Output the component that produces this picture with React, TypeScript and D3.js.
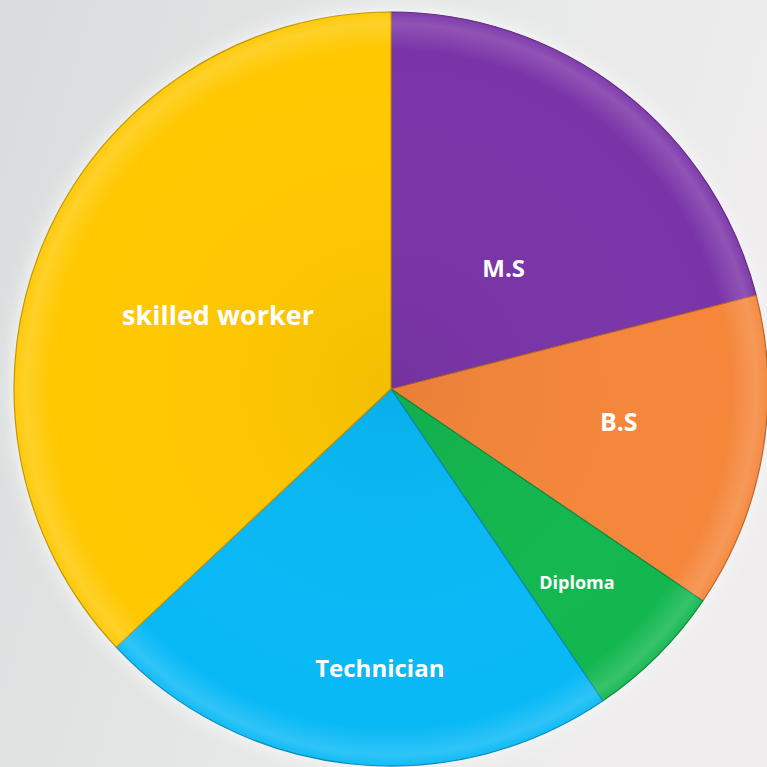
import React, { useEffect, useRef } from 'react';
import * as d3 from 'd3';

// slice data, clockwise from 12 o'clock
const categories = ['M.S', 'B.S', 'Diploma', 'Technician', 'skilled worker'];
const shares = [21, 13.5, 6, 22.5, 37];
const colors = ['#7A34A8', '#F5863A', '#12B74F', '#08B9F6', '#FFC800'];

// label placement: fraction of radius, angle nudge (deg), font size
const labelRadius = [0.44, 0.61, 0.71, 0.74, 0.5];
const labelNudge = [5, -2, 1, -4, 0];
const labelSize = [24, 25, 18, 24, 27];

const App = () => {
    const ref = useRef<SVGSVGElement>(null);

    useEffect(() => {
        document.body.style.margin = '0';
        const svg = d3.select(ref.current);
        svg.selectAll('*').remove();

        const W = 767, H = 767;
        const cx = 391, cy = 389, R = 377;

        const defs = svg.append('defs');

        // background, light grey photo-ish gradient
        const bg = defs.append('linearGradient').attr('id', 'bg')
            .attr('x1', 0).attr('y1', 0).attr('x2', 1).attr('y2', 0.3);
        bg.append('stop').attr('offset', '0%').attr('stop-color', '#D9DCDC');
        bg.append('stop').attr('offset', '55%').attr('stop-color', '#E6E8E8');
        bg.append('stop').attr('offset', '100%').attr('stop-color', '#EFEDED');
        svg.append('rect').attr('width', W).attr('height', H).attr('fill', 'url(#bg)');

        // soft glow behind the pie
        const glow = defs.append('filter').attr('id', 'glow')
            .attr('x', '-10%').attr('y', '-10%').attr('width', '120%').attr('height', '120%');
        glow.append('feGaussianBlur').attr('stdDeviation', 8);
        svg.append('circle').attr('cx', cx).attr('cy', cy).attr('r', R + 4)
            .attr('fill', '#F6F6F6').attr('opacity', 0.9).attr('filter', 'url(#glow)');

        // rim highlight to fake the bevel (group coords, so centred on 0,0)
        const rim = defs.append('radialGradient').attr('id', 'rim')
            .attr('cx', 0).attr('cy', 0).attr('r', R).attr('gradientUnits', 'userSpaceOnUse');
        rim.append('stop').attr('offset', '0%').attr('stop-color', '#000').attr('stop-opacity', 0.05);
        rim.append('stop').attr('offset', '90%').attr('stop-color', '#fff').attr('stop-opacity', 0);
        rim.append('stop').attr('offset', '97%').attr('stop-color', '#fff').attr('stop-opacity', 0.16);
        rim.append('stop').attr('offset', '100%').attr('stop-color', '#fff').attr('stop-opacity', 0.04);

        const pie = d3.pie<number>().sort(null).value(d => d);
        const arcs = pie(shares);
        const arc = d3.arc<d3.PieArcDatum<number>>().innerRadius(0).outerRadius(R);

        const g = svg.append('g').attr('transform', `translate(${cx},${cy})`);

        g.selectAll('path.slice')
            .data(arcs)
            .join('path')
            .attr('class', 'slice')
            .attr('d', arc)
            .attr('fill', (d, i) => colors[i])
            .attr('stroke', (d, i) => d3.color(colors[i])!.darker(0.8).formatHex())
            .attr('stroke-width', 1.2)
            .attr('stroke-linejoin', 'round');

        g.selectAll('path.shine')
            .data(arcs)
            .join('path')
            .attr('class', 'shine')
            .attr('d', arc)
            .attr('fill', 'url(#rim)')
            .style('pointer-events', 'none');

        // labels
        g.selectAll('text.lbl')
            .data(arcs)
            .join('text')
            .attr('class', 'lbl')
            .attr('transform', (d, i) => {
                const mid = (d.startAngle + d.endAngle) / 2 + labelNudge[i] * Math.PI / 180;
                const r = R * labelRadius[i];
                return `translate(${r * Math.sin(mid)},${-r * Math.cos(mid)})`;
            })
            .attr('text-anchor', 'middle')
            .attr('dominant-baseline', 'central')
            .style('font-family', '"Open Sans", sans-serif')
            .style('font-weight', 700)
            .style('font-size', (d, i) => `${labelSize[i]}px`)
            .style('fill', '#fff')
            .text((d, i) => categories[i]);
    }, []);

    return <svg ref={ref} width={767} height={767} style={{ display: 'block' }} />;
};

export default App;
